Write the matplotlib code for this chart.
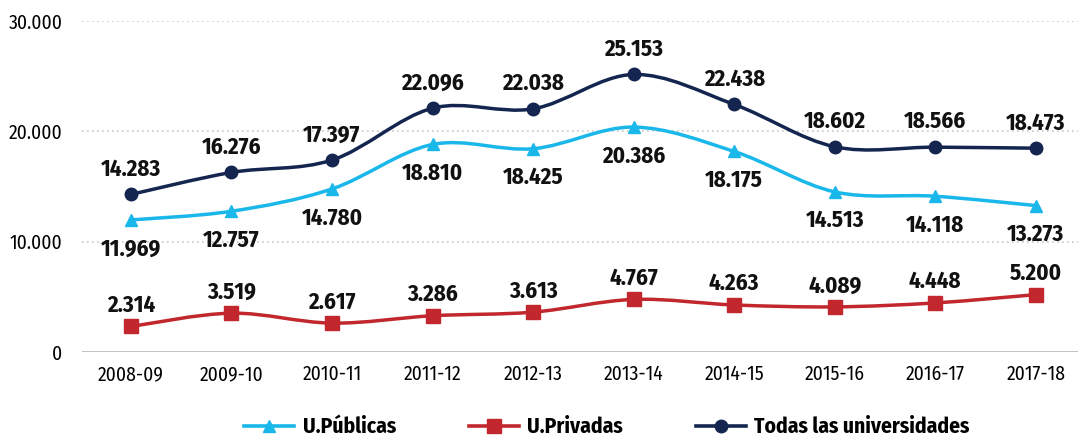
import matplotlib
matplotlib.use("Agg")
import matplotlib.pyplot as plt
from matplotlib.path import Path
from matplotlib.patches import PathPatch
import numpy as np

categories = ["2008-09", "2009-10", "2010-11", "2011-12", "2012-13",
              "2013-14", "2014-15", "2015-16", "2016-17", "2017-18"]
publicas = [11969, 12757, 14780, 18810, 18425, 20386, 18175, 14513, 14118, 13273]
privadas = [2314, 3519, 2617, 3286, 3613, 4767, 4263, 4089, 4448, 5200]
todas = [14283, 16276, 17397, 22096, 22038, 25153, 22438, 18602, 18566, 18473]
yticks = [0, 10000, 20000, 30000]
ytick_labels = ["0", "10.000", "20.000", "30.000"]

C_PUB = "#1ab7ea"
C_PRI = "#c1272d"
C_TOD = "#14264f"

FONT = ["Fira Sans Condensed", "DejaVu Sans"]
plt.rcParams["font.family"] = FONT


def smooth_path(xs, ys):
    pts = np.column_stack([xs, ys]).astype(float)
    n = len(pts)
    verts = [pts[0]]
    codes = [Path.MOVETO]
    for i in range(n - 1):
        p0 = pts[i - 1] if i > 0 else pts[i]
        p1 = pts[i]
        p2 = pts[i + 1]
        p3 = pts[i + 2] if i + 2 < n else pts[i + 1]
        c1 = p1 + (p2 - p0) / 6.0
        c2 = p2 - (p3 - p1) / 6.0
        verts += [c1, c2, p2]
        codes += [Path.CURVE4] * 3
    return Path(verts, codes)


fig = plt.figure(figsize=(10.84, 4.41), dpi=100)
ax = fig.add_axes([82 / 1084, 1 - 352 / 441, (1078 - 82) / 1084, (352 - 21) / 441])

x = np.arange(len(categories))

for vals, col, mk, ms, lab in [
    (publicas, C_PUB, "^", 9, "U.Públicas"),
    (privadas, C_PRI, "s", 10, "U.Privadas"),
    (todas, C_TOD, "o", 9, "Todas las universidades"),
]:
    patch = PathPatch(smooth_path(x, vals), facecolor="none", edgecolor=col,
                      lw=2.5, zorder=3, capstyle="round")
    ax.add_patch(patch)
    ax.plot(x, vals, linestyle="none", marker=mk, ms=ms, color=col, zorder=4)
    ax.plot([], [], color=col, lw=2.6, marker=mk, ms=ms, label=lab)

label_kw = dict(fontsize=16.5, fontweight="bold", color="#111111", ha="center")


def fmt(v):
    return f"{v:,}".replace(",", ".")


for i in range(len(categories)):
    ax.annotate(fmt(todas[i]), (x[i], todas[i]),
                xytext=(0, 13.5), textcoords="offset points", va="baseline", **label_kw)
    ax.annotate(fmt(publicas[i]), (x[i], publicas[i]),
                xytext=(0, -12.5), textcoords="offset points", va="top", **label_kw)
    ax.annotate(fmt(privadas[i]), (x[i], privadas[i]),
                xytext=(0, 10.5), textcoords="offset points", va="baseline", **label_kw)

ax.set_xlim(-0.487, 9.42)
ax.set_ylim(0, 30000)
ax.set_xticks(x)
ax.set_xticklabels(categories, fontsize=14)
ax.set_yticks(yticks)
ax.set_yticklabels(ytick_labels, fontsize=14)
ax.tick_params(length=0)
ax.tick_params(axis="x", pad=9)
ax.tick_params(axis="y", pad=14)

for y in yticks[1:]:
    ax.axhline(y, color="#c8c8c8", lw=1.2, ls=(0, (1, 2)), zorder=1)
ax.axhline(0, color="#bfbfbf", lw=2, zorder=2)
for s in ax.spines.values():
    s.set_visible(False)

leg = fig.legend(loc="center", bbox_to_anchor=(0.56, 1 - 427 / 441), ncol=3,
                 frameon=False, prop={"size": 15.5, "weight": "bold", "family": FONT},
                 handlelength=2.3, columnspacing=3.4, handletextpad=0.4)

fig.savefig("out.png", dpi=100)
